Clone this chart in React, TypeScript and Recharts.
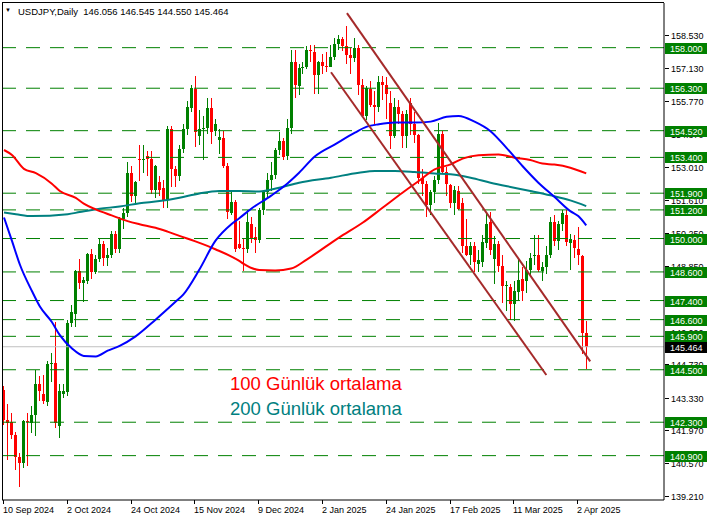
import React from "react";
import { ComposedChart, Bar, Line, XAxis, YAxis, ReferenceLine } from "recharts";

// ---- data (USDJPY daily, 10 Sep 2024 .. 4 Apr 2025) ----
const DATE_LABELS = ["10 Sep 2024", "2 Oct 2024", "24 Oct 2024", "15 Nov 2024", "9 Dec 2024", "2 Jan 2025", "24 Jan 2025", "17 Feb 2025", "11 Mar 2025", "2 Apr 2025"];
const DATE_LABEL_BARS = [0, 16, 32, 48, 64, 80, 96, 112, 128, 144];

const OPEN = [
  143.65, 142.4, 142.3, 141.75, 140.85, 140.6, 142.35, 142.25, 142.6, 143.9,
  143.5, 143.15, 144.75, 144.8, 142.15, 143.5, 143.55, 146.45, 146.85, 148.65,
  148.15, 148.2, 149.35, 148.6, 149.15, 149.75, 149.2, 149.3, 150.2, 149.55,
  150.8, 151.05, 152.75, 151.8, 153.35, 153.3, 153.45, 153.35, 152.05, 152.35,
  152.1, 151.6, 154.6, 152.9, 152.6, 153.75, 154.6, 155.45, 156.25, 154.3,
  154.6, 154.65, 155.45, 154.5, 154.15, 154.2, 153.05, 151.05, 151.55, 149.75,
  149.6, 149.55, 150.6, 150.05, 149.95, 151.2, 151.95, 152.45, 152.65, 153.7,
  154.1, 153.45, 154.65, 157.4, 156.4, 157.15, 157.2, 157.9, 157.8, 156.85,
  157.4, 157.25, 157.2, 157.6, 158.15, 158.35, 158.05, 157.7, 157.55, 158.0,
  156.45, 155.15, 156.25, 155.6, 155.5, 156.55, 156.45, 155.7, 154.3, 155.5,
  155.2, 154.3, 155.7, 154.8, 154.35, 152.55, 152.3, 151.4, 151.95, 152.45,
  154.4, 152.8, 152.25, 151.5, 152.0, 151.5, 149.7, 149.3, 149.7, 148.95,
  149.0, 149.8, 150.7, 149.15, 149.75, 148.85, 148.0, 147.95, 147.25, 147.75,
  148.3, 148.2, 148.7, 149.25, 149.3, 148.65, 148.8, 149.3, 150.7, 149.9,
  150.6, 151.0, 149.8, 149.95, 149.55, 149.25, 146.056,
];
const HIGH = [
  143.8, 143.05, 142.7, 141.9, 141.0, 142.4, 142.7, 143.0, 144.5, 144.25,
  144.3, 144.85, 145.2, 146.5, 143.9, 143.9, 146.6, 147.2, 148.7, 149.15,
  148.4, 149.4, 149.55, 149.3, 150.0, 149.9, 149.6, 150.3, 150.3, 150.9,
  151.3, 153.2, 153.05, 152.4, 153.9, 153.9, 153.65, 153.65, 153.1, 152.6,
  152.45, 154.7, 154.7, 153.05, 153.9, 154.8, 155.75, 156.45, 156.8, 155.4,
  155.15, 155.9, 155.9, 155.0, 154.6, 154.5, 153.15, 151.95, 151.6, 150.75,
  150.0, 151.2, 150.9, 150.5, 151.3, 152.0, 152.75, 153.2, 153.8, 154.45,
  154.2, 155.0, 157.9, 157.9, 157.3, 157.4, 158.05, 158.1, 158.1, 157.45,
  157.75, 157.8, 158.1, 158.4, 158.55, 158.45, 158.9, 158.0, 158.4, 158.1,
  156.7, 156.4, 156.6, 156.2, 156.8, 156.8, 156.75, 156.2, 155.9, 155.8,
  155.35, 155.4, 155.9, 155.3, 154.4, 152.9, 152.4, 152.05, 152.6, 154.85,
  154.5, 153.0, 152.3, 152.2, 152.2, 151.7, 150.8, 149.85, 149.85, 149.5,
  150.15, 151.1, 151.1, 150.1, 149.9, 149.3, 148.2, 148.1, 148.2, 149.15,
  148.8, 149.05, 149.4, 150.15, 150.15, 149.0, 149.7, 150.9, 151.0, 150.75,
  151.2, 151.2, 150.2, 150.15, 150.5, 149.3, 146.545,
];
const LOW = [
  142.2, 140.7, 141.6, 140.3, 139.58, 140.4, 140.45, 141.85, 141.72, 143.2,
  143.05, 143.0, 144.0, 142.05, 141.65, 143.3, 143.4, 146.3, 146.3, 147.9,
  147.35, 148.1, 148.3, 148.5, 149.0, 148.85, 148.85, 149.2, 149.4, 149.4,
  150.4, 150.9, 151.55, 151.5, 152.4, 152.75, 152.6, 151.85, 151.7, 151.8,
  151.3, 151.3, 152.15, 152.15, 152.4, 153.6, 154.35, 155.3, 153.85, 153.9,
  153.3, 154.4, 153.95, 154.3, 153.55, 152.95, 150.8, 151.0, 149.45, 149.55,
  148.65, 149.4, 149.8, 149.4, 149.8, 151.0, 151.7, 152.0, 152.5, 153.5,
  153.3, 153.3, 154.4, 155.9, 156.0, 156.9, 157.1, 157.4, 156.05, 156.05,
  156.9, 157.0, 157.2, 157.5, 157.9, 157.85, 157.3, 156.9, 157.4, 156.0,
  155.1, 154.95, 155.5, 154.8, 155.3, 155.8, 155.0, 153.75, 154.2, 154.8,
  153.8, 153.8, 154.35, 154.0, 152.3, 151.8, 150.9, 151.0, 151.5, 152.3,
  152.75, 151.8, 151.3, 151.0, 151.2, 149.4, 149.25, 148.9, 148.6, 148.6,
  148.8, 149.6, 149.3, 148.1, 148.6, 147.3, 146.95, 146.6, 146.55, 147.4,
  147.4, 147.7, 148.4, 148.9, 148.6, 148.2, 148.5, 149.2, 149.7, 149.5,
  150.3, 149.7, 148.7, 149.2, 148.9, 145.15, 144.55,
];
const CLOSE = [
  142.4, 142.25, 141.75, 140.85, 140.6, 142.35, 142.3, 142.6, 143.9, 143.6,
  143.2, 144.75, 144.8, 142.25, 143.6, 143.6, 146.45, 146.9, 148.65, 148.15,
  148.25, 149.35, 148.6, 149.15, 149.75, 149.2, 149.3, 150.2, 149.55, 150.8,
  151.05, 152.75, 151.8, 152.35, 153.3, 153.35, 153.35, 152.05, 153.05, 152.05,
  151.6, 154.6, 152.9, 152.6, 153.75, 154.6, 155.5, 156.3, 154.45, 154.6,
  154.65, 155.45, 154.45, 154.8, 154.25, 153.05, 151.1, 151.55, 149.55, 149.6,
  149.55, 150.7, 150.0, 149.95, 151.2, 151.95, 152.45, 152.65, 153.7, 154.1,
  153.4, 154.65, 157.4, 156.45, 157.15, 157.2, 157.9, 157.85, 156.85, 157.4,
  157.25, 157.2, 157.6, 158.15, 158.35, 158.05, 157.7, 157.55, 158.0, 156.45,
  155.15, 156.3, 155.6, 155.5, 156.55, 156.45, 156.05, 154.3, 155.5, 155.2,
  154.3, 155.2, 154.8, 154.35, 152.55, 152.3, 151.4, 151.95, 152.45, 154.4,
  152.8, 152.3, 151.5, 152.05, 151.25, 149.7, 149.3, 149.7, 149.0, 149.1,
  149.85, 150.6, 149.5, 149.75, 148.85, 148.0, 148.05, 147.25, 147.8, 148.25,
  147.8, 148.7, 149.2, 149.3, 148.7, 148.8, 149.3, 150.7, 149.9, 150.6,
  151.05, 149.85, 150.0, 149.6, 149.3, 146.05, 145.464,
];

// moving averages: [bar index, value]
const MA50_POINTS: [number, number][] = [
  [0, 150.88], [2, 149.9], [4, 148.9], [7, 147.8], [9, 147.15], [12, 146.5], [14, 145.95], [17, 145.4],
  [20, 145.08], [23, 145.06], [26, 145.3], [29, 145.5], [33, 145.9], [38, 146.6], [43, 147.35], [45, 147.66],
  [49, 148.7], [53, 149.9], [57, 150.6], [59, 150.85], [62, 151.25], [67, 151.8], [71, 152.3], [74, 152.76],
  [78, 153.45], [83, 153.95], [88, 154.44], [91, 154.69], [94, 154.79], [98, 154.86], [103, 154.86], [107, 154.9],
  [111, 155.1], [114, 155.14], [118, 154.9], [122, 154.5], [126, 153.8], [130, 153.04], [134, 152.34], [138, 151.75],
  [142, 151.15], [144, 150.94], [146, 150.55],
];
const MA100_POINTS: [number, number][] = [
  [0, 153.71], [2, 153.5], [5, 152.92], [8, 152.74], [12, 152.3], [14, 151.99], [18, 151.7], [20, 151.46],
  [23, 151.22], [27, 150.97], [31, 150.73], [34, 150.6], [38, 150.45], [41, 150.29], [44, 150.11], [48, 149.88],
  [51, 149.69], [53, 149.55], [59, 149.06], [60, 148.95], [64, 148.68], [68, 148.66], [72, 148.74], [76, 149.13],
  [84, 150.04], [90, 150.67], [95, 151.3], [100, 151.93], [104, 152.41], [108, 152.9], [112, 153.11], [115, 153.35],
  [119, 153.49], [124, 153.52], [128, 153.39], [132, 153.29], [135, 153.14], [138, 153.1], [142, 152.97], [146, 152.73],
];
const MA200_POINTS: [number, number][] = [
  [0, 151.09], [3, 151.02], [7, 150.94], [16, 151.02], [19, 151.11], [24, 151.25], [29, 151.34], [34, 151.48],
  [39, 151.57], [44, 151.71], [49, 151.89], [54, 151.99], [59, 151.99], [64, 151.97], [69, 152.13], [74, 152.34],
  [82, 152.55], [89, 152.76], [93, 152.83], [98, 152.83], [103, 152.79], [108, 152.73], [112, 152.69], [117, 152.55],
  [122, 152.34], [127, 152.16], [132, 151.99], [137, 151.81], [142, 151.6], [146, 151.36],
];

const LEVELS = [158.0, 156.3, 154.52, 153.4, 151.9, 151.2, 150.0, 148.6, 147.4, 146.6, 145.9, 144.5, 142.3, 140.9];
const Y_TICKS = [158.53, 157.13, 155.77, 154.37, 153.01, 151.61, 150.25, 148.85, 147.49, 146.09, 144.73, 143.33, 141.97, 140.57, 139.21];
const LAST_PRICE = 145.464;
const HEADER_OHLC = ["146.056", "146.545", "144.550", "145.464"];
const CHANNEL_UPPER: [number, number][] = [[86, 159.45], [147, 144.85]];
const CHANNEL_LOWER: [number, number][] = [[82, 156.97], [136, 144.28]];
const TOTAL_SLOTS = 166;
const Y_DOMAIN: [number, number] = [139.04, 159.872];

// ---- build table ----
const data: any[] = Array.from({ length: TOTAL_SLOTS }, (_, i) => {
  const row: any = { i };
  if (i < OPEN.length) {
    row.o = OPEN[i];
    row.h = HIGH[i];
    row.l = LOW[i];
    row.c = CLOSE[i];
    row.range = [LOW[i], HIGH[i]];
  }
  return row;
});
MA50_POINTS.forEach(([i, v]) => (data[i].ma50 = v));
MA100_POINTS.forEach(([i, v]) => (data[i].ma100 = v));
MA200_POINTS.forEach(([i, v]) => (data[i].ma200 = v));

// axis ticks: plain price ticks first, then level tags so that the tags are drawn on top
const AXIS_TICKS = [...Y_TICKS, ...LEVELS, LAST_PRICE];

const FONT = "'Liberation Sans', Arial, sans-serif";
const GREEN = "#008000";

const Candle = (props: any) => {
  const { x, y, width, height, payload } = props;
  if (!payload || payload.o == null || x == null) return null;
  const { o, h, l, c } = payload;
  const top = Math.min(y, y + height);
  const bottom = Math.max(y, y + height);
  const span = h - l;
  const ppu = span > 0 ? (bottom - top) / span : 0;
  const yOf = (v: number) => top + (h - v) * ppu;
  const cx = x + width / 2;
  const col = Math.round(cx - 0.5);
  const color = c >= o ? GREEN : "#FF0000";
  const wTop = Math.round(top);
  const wBot = Math.round(bottom);
  const bTop = Math.round(yOf(Math.max(o, c)));
  const bBot = Math.round(yOf(Math.min(o, c)));
  return (
    <g shapeRendering="crispEdges">
      <rect x={col} y={wTop} width={1} height={Math.max(1, wBot - wTop)} fill={color} />
      <rect x={col - 1} y={bTop} width={3} height={Math.max(1, bBot - bTop)} fill={color} />
    </g>
  );
};

const PriceTick = (props: any) => {
  const { x, y, payload, index } = props;
  const yy = Math.round(y);
  const v = Number(payload.value);
  const isTag = index >= Y_TICKS.length;
  if (isTag) {
    const bg = v === LAST_PRICE ? "#000" : GREEN;
    return (
      <g shapeRendering="crispEdges">
        <rect x={x + 1} y={yy - 5} width={42} height={11} fill={bg} />
        <text x={x + 6} y={yy + 4} fontSize={9} fontFamily={FONT} fill="#fff">
          {v.toFixed(3)}
        </text>
      </g>
    );
  }
  return (
    <g shapeRendering="crispEdges">
      <line x1={x + 1} x2={x + 5} y1={yy + 0.5} y2={yy + 0.5} stroke="#000" />
      <text x={x + 7} y={yy + 4} fontSize={9} fontFamily={FONT} fill="#000">
        {v.toFixed(3)}
      </text>
    </g>
  );
};

const DateTick = (props: any) => {
  const { x, y, payload } = props;
  const k = DATE_LABEL_BARS.indexOf(Number(payload.value));
  if (k < 0) return null;
  const xx = Math.round(x) - 1;
  return (
    <g shapeRendering="crispEdges">
      <line x1={xx + 0.5} x2={xx + 0.5} y1={y} y2={y + 4} stroke="#000" />
      <text x={xx} y={y + 13} fontSize={9} fontFamily={FONT} fill="#000">
        {DATE_LABELS[k]}
      </text>
    </g>
  );
};

export default function App() {
  return (
    <div style={{ position: "absolute", left: 0, top: 0, width: 709, height: 521, background: "#fff", overflow: "hidden" }}>
      <ComposedChart width={709} height={521} data={data} margin={{ top: 3, right: 0, bottom: 0, left: 2 }}>
        <XAxis
          dataKey="i"
          type="category"
          interval={15}
          tick={<DateTick />}
          tickLine={false}
          tickSize={0}
          tickMargin={0}
          axisLine={{ stroke: "#000" }}
          height={21}
        />
        <YAxis
          orientation="right"
          type="number"
          domain={Y_DOMAIN}
          allowDataOverflow
          ticks={AXIS_TICKS}
          interval={0}
          tick={<PriceTick />}
          tickLine={false}
          tickSize={0}
          tickMargin={0}
          axisLine={{ stroke: "#000" }}
          width={45}
        />
        {LEVELS.map((lv) => (
          <ReferenceLine key={lv} y={lv} stroke={GREEN} strokeDasharray="14 10" strokeWidth={1} />
        ))}
        <ReferenceLine y={LAST_PRICE} stroke="#C0C0C0" strokeWidth={1} />
        <Bar dataKey="range" shape={<Candle />} isAnimationActive={false} />
        <Line dataKey="ma200" type="monotone" stroke="#008080" strokeWidth={2} dot={false} connectNulls isAnimationActive={false} />
        <Line dataKey="ma100" type="monotone" stroke="#FF0000" strokeWidth={2} dot={false} connectNulls isAnimationActive={false} />
        <Line dataKey="ma50" type="monotone" stroke="#0000FF" strokeWidth={2} dot={false} connectNulls isAnimationActive={false} />
        <ReferenceLine
          segment={[{ x: CHANNEL_UPPER[0][0], y: CHANNEL_UPPER[0][1] }, { x: CHANNEL_UPPER[1][0], y: CHANNEL_UPPER[1][1] }]}
          stroke="#A52A2A"
          strokeWidth={2}
        />
        <ReferenceLine
          segment={[{ x: CHANNEL_LOWER[0][0], y: CHANNEL_LOWER[0][1] }, { x: CHANNEL_LOWER[1][0], y: CHANNEL_LOWER[1][1] }]}
          stroke="#A52A2A"
          strokeWidth={2}
        />
      </ComposedChart>
      {/* frame: left and top edges */}
      <div style={{ position: "absolute", left: 2, top: 2, width: 662, height: 498, borderLeft: "1px solid #000", borderTop: "1px solid #000", boxSizing: "border-box", pointerEvents: "none" }} />
      {/* header */}
      <div style={{ position: "absolute", left: 5, top: 7, fontFamily: FONT, fontSize: 6, lineHeight: "6px", color: "#000" }}>▼</div>
      <div style={{ position: "absolute", left: 18, top: 7, fontFamily: FONT, fontSize: 9.5, lineHeight: "10px", color: "#000", whiteSpace: "pre" }}>
        {"USDJPY,Daily  " + HEADER_OHLC.join(" ")}
      </div>
      {/* legend texts */}
      <div style={{ position: "absolute", left: 230, top: 375, fontFamily: FONT, fontSize: 18.5, lineHeight: "18.5px", color: "#FF0000", whiteSpace: "pre" }}>
        100 Günlük ortalama
      </div>
      <div style={{ position: "absolute", left: 230, top: 399.5, fontFamily: FONT, fontSize: 18.5, lineHeight: "18.5px", color: "#008080", whiteSpace: "pre" }}>
        200 Günlük ortalama
      </div>
    </div>
  );
}
